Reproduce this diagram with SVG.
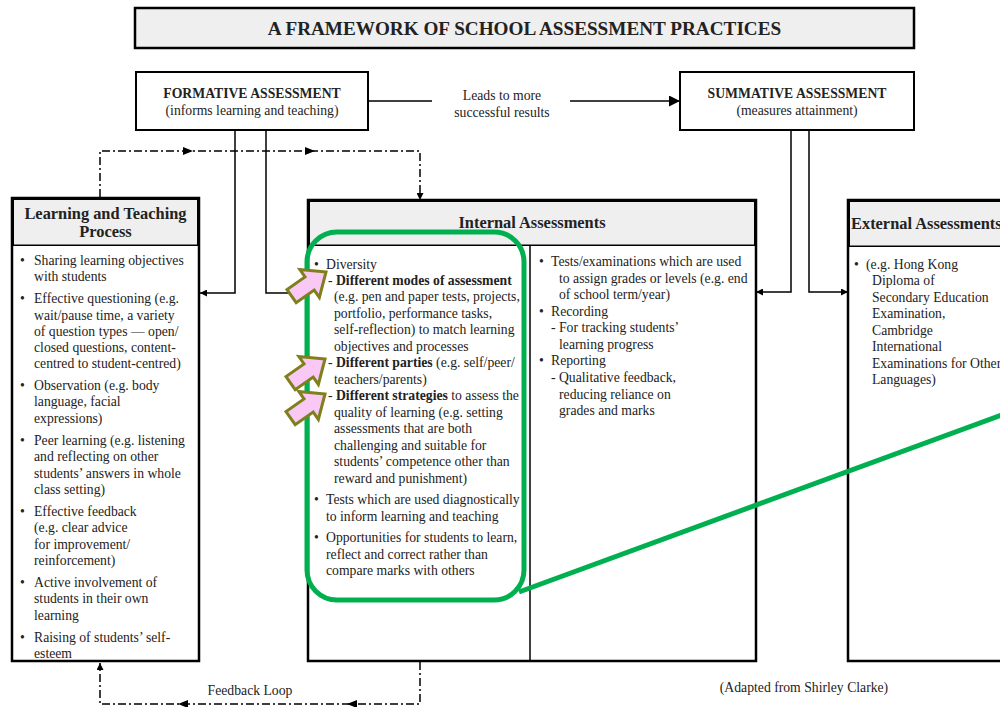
<svg xmlns="http://www.w3.org/2000/svg" width="1000" height="707" viewBox="0 0 1000 707">
  <style>
    text { font-family: "Liberation Serif", "Times New Roman", serif; fill: #222; }
    .t { font-size: 13.7px; }
    .b { font-weight: bold; }
    .h { font-size: 16.4px; font-weight: bold; }
    .c { text-anchor: middle; }
    .box { fill: #fff; stroke: #000; stroke-width: 2.5; }
    .head { fill: #efefef; stroke: #000; stroke-width: 1.5; }
    .line { fill: none; stroke: #000; stroke-width: 1.5; }
    .dd { fill: none; stroke: #000; stroke-width: 1.5; stroke-dasharray: 8 3 2 3; }
    .pink { fill: #f9c8f4; stroke: #7f7f1e; stroke-width: 3; stroke-linejoin: miter; }
    .green { fill: none; stroke: #00b050; stroke-width: 5; }
  </style>
  <defs>
    <marker id="ah" viewBox="0 0 10 10" refX="10" refY="5" markerWidth="7" markerHeight="7" markerUnits="userSpaceOnUse" orient="auto">
      <path d="M0,0 L10,5 L0,10 z" fill="#000"/>
    </marker>
    <marker id="ahL" viewBox="0 0 10 10" refX="10" refY="5" markerWidth="11" markerHeight="11" markerUnits="userSpaceOnUse" orient="auto">
      <path d="M0,0 L10,5 L0,10 z" fill="#000"/>
    </marker>
    <polygon id="blockArrow" points="0,0 -20,-17 -20,-8 -42,-8 -42,8 -20,8 -20,17"/>
  </defs>

  <rect width="1000" height="707" fill="#fff"/>

  <!-- title -->
  <g id="title">
    <rect x="135" y="8" width="779" height="40" fill="#efefef" stroke="#000" stroke-width="2.5"/>
    <text x="524.5" y="35" font-size="19.2" font-weight="bold" text-anchor="middle">A FRAMEWORK OF SCHOOL ASSESSMENT PRACTICES</text>
  </g>

  <!-- connectors -->
  <g id="connectors">
    <!-- formative to summative -->
    <line class="line" x1="368" y1="101" x2="432" y2="101"/>
    <line class="line" x1="570" y1="101" x2="680" y2="101" marker-end="url(#ahL)"/>
    <!-- formative down to learning & teaching and internal -->
    <polyline class="line" points="235,130 235,293 200,293" marker-end="url(#ah)"/>
    <polyline class="line" points="266,130 266,293 308,293" marker-end="url(#ah)"/>
    <!-- summative down to internal and external -->
    <polyline class="line" points="791,130 791,292 756,292" marker-end="url(#ah)"/>
    <polyline class="line" points="809,130 809,292 848,292" marker-end="url(#ah)"/>
    <!-- dash-dot loop from learning & teaching to internal -->
    <polyline class="dd" points="100,197 100,151 420,151 420,200" marker-end="url(#ah)"/>
    <path d="M183,147 L193,151 L183,155 z" fill="#000"/>
    <path d="M305,147 L315,151 L305,155 z" fill="#000"/>
    <!-- feedback loop -->
    <polyline class="dd" points="420,662 420,704 100,704 100,663" marker-end="url(#ah)"/>
    <path d="M357,700 L347,704 L357,708 z" fill="#000"/>
    <path d="M188,700 L178,704 L188,708 z" fill="#000"/>
    <text class="t c" x="250" y="695">Feedback Loop</text>
  </g>

  <!-- formative -->
  <g id="formative">
    <rect x="136" y="72" width="232" height="58" fill="#fff" stroke="#000" stroke-width="2"/>
    <text class="t b c" x="252" y="98">FORMATIVE ASSESSMENT</text>
    <text class="t c" x="252" y="115">(informs learning and teaching)</text>
  </g>

  <g id="leads-label">
    <text class="t c" x="502" y="100">Leads to more</text>
    <text class="t c" x="502" y="117">successful results</text>
  </g>

  <!-- summative -->
  <g id="summative">
    <rect x="680" y="72" width="234" height="58" fill="#fff" stroke="#000" stroke-width="2"/>
    <text class="t b c" x="797" y="98">SUMMATIVE ASSESSMENT</text>
    <text class="t c" x="797" y="115">(measures attainment)</text>
  </g>

  <!-- learning and teaching process -->
  <g id="learning-teaching">
    <rect class="box" x="12" y="198" width="187" height="463"/>
    <rect class="head" x="13.25" y="199.25" width="184.5" height="46"/>
    <text class="h c" x="105.5" y="219">Learning and Teaching</text>
    <text class="h c" x="105.5" y="237">Process</text>
    <g class="t">
      <text x="20" y="265">•</text>
      <text x="34" y="265">Sharing learning objectives</text>
      <text x="34" y="281">with students</text>
      <text x="20" y="303">•</text>
      <text x="34" y="303">Effective questioning (e.g.</text>
      <text x="34" y="320">wait/pause time, a variety</text>
      <text x="34" y="336">of question types — open/</text>
      <text x="34" y="352">closed questions, content-</text>
      <text x="34" y="368">centred to student-centred)</text>
      <text x="20" y="390">•</text>
      <text x="34" y="390">Observation (e.g. body</text>
      <text x="34" y="406">language, facial</text>
      <text x="34" y="423">expressions)</text>
      <text x="20" y="445">•</text>
      <text x="34" y="445">Peer learning (e.g. listening</text>
      <text x="34" y="461">and reflecting on other</text>
      <text x="34" y="478">students’ answers in whole</text>
      <text x="34" y="494">class setting)</text>
      <text x="20" y="516">•</text>
      <text x="34" y="516">Effective feedback</text>
      <text x="34" y="532">(e.g. clear advice</text>
      <text x="34" y="549">for improvement/</text>
      <text x="34" y="565">reinforcement)</text>
      <text x="20" y="587">•</text>
      <text x="34" y="587">Active involvement of</text>
      <text x="34" y="603">students in their own</text>
      <text x="34" y="620">learning</text>
      <text x="20" y="642">•</text>
      <text x="34" y="642">Raising of students’ self-</text>
      <text x="34" y="658">esteem</text>
    </g>
  </g>

  <!-- internal assessments -->
  <g id="internal">
    <rect class="box" x="308" y="200" width="448" height="461"/>
    <rect class="head" x="309.25" y="201.25" width="445.5" height="44"/>
    <text class="h c" x="532" y="228">Internal Assessments</text>
    <line class="line" x1="530" y1="245" x2="530" y2="661"/>
    <g class="t">
      <text x="314" y="269">•</text>
      <text x="326" y="269">Diversity</text>
      <text x="328" y="285">- <tspan class="b">Different modes of assessment</tspan></text>
      <text x="334" y="301">(e.g. pen and paper tests, projects,</text>
      <text x="334" y="318">portfolio, performance tasks,</text>
      <text x="334" y="334">self-reflection) to match learning</text>
      <text x="334" y="351">objectives and processes</text>
      <text x="328" y="367">- <tspan class="b">Different parties</tspan> (e.g. self/peer/</text>
      <text x="334" y="384">teachers/parents)</text>
      <text x="328" y="400">- <tspan class="b">Different strategies</tspan> to assess the</text>
      <text x="334" y="417">quality of learning (e.g. setting</text>
      <text x="334" y="433">assessments that are both</text>
      <text x="334" y="450">challenging and suitable for</text>
      <text x="334" y="466">students’ competence other than</text>
      <text x="334" y="483">reward and punishment)</text>
      <text x="314" y="504">•</text>
      <text x="326" y="504">Tests which are used diagnostically</text>
      <text x="326" y="521">to inform learning and teaching</text>
      <text x="314" y="542">•</text>
      <text x="326" y="542">Opportunities for students to learn,</text>
      <text x="326" y="559">reflect and correct rather than</text>
      <text x="326" y="575">compare marks with others</text>

      <text x="539" y="266">•</text>
      <text x="551" y="266">Tests/examinations which are used</text>
      <text x="559" y="283">to assign grades or levels (e.g. end</text>
      <text x="559" y="299">of school term/year)</text>
      <text x="539" y="316">•</text>
      <text x="551" y="316">Recording</text>
      <text x="551" y="332">- For tracking students’</text>
      <text x="559" y="349">learning progress</text>
      <text x="539" y="365">•</text>
      <text x="551" y="365">Reporting</text>
      <text x="551" y="382">- Qualitative feedback,</text>
      <text x="559" y="399">reducing reliance on</text>
      <text x="559" y="415">grades and marks</text>
    </g>
  </g>

  <!-- external assessments -->
  <g id="external">
    <rect class="box" x="848" y="200" width="200" height="461"/>
    <rect class="head" x="849.25" y="201.25" width="197.5" height="45"/>
    <text class="h" x="851" y="229">External Assessments</text>
    <g class="t">
      <text x="854" y="269">•</text>
      <text x="866" y="269">(e.g. Hong Kong</text>
      <text x="872" y="285">Diploma of</text>
      <text x="872" y="302">Secondary Education</text>
      <text x="872" y="318">Examination,</text>
      <text x="872" y="335">Cambridge</text>
      <text x="872" y="351">International</text>
      <text x="872" y="368">Examinations for Other</text>
      <text x="872" y="384">Languages)</text>
    </g>
  </g>

  <text class="t c" x="804" y="692">(Adapted from Shirley Clarke)</text>

  <!-- highlight overlay -->
  <g id="highlight">
    <rect class="green" x="307" y="232" width="217" height="368" rx="30" ry="30"/>
    <line class="green" x1="519" y1="592" x2="1010" y2="412"/>
    <use href="#blockArrow" class="pink" transform="translate(326,272) rotate(-35)"/>
    <use href="#blockArrow" class="pink" transform="translate(325,359) rotate(-35)"/>
    <use href="#blockArrow" class="pink" transform="translate(325,394) rotate(-35)"/>
  </g>
</svg>
